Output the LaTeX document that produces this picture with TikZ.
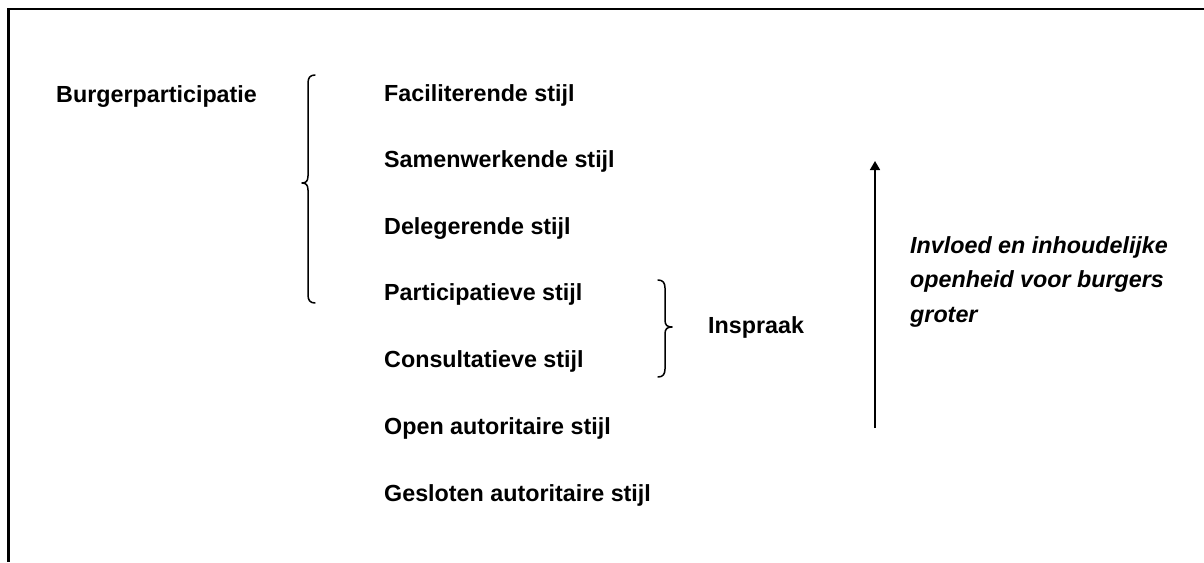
\documentclass[tikz,border=0pt]{standalone}
\usepackage{fontspec}
\setmainfont{Liberation Sans}
\usetikzlibrary{arrows.meta}
\tikzset{
  lbl/.style={anchor=base west, inner sep=0pt, font=\fontsize{23.3}{28}\selectfont\bfseries},
  ilbl/.style={anchor=base west, inner sep=0pt, align=left, font=\fontsize{23.3}{34.8}\selectfont\bfseries\itshape},
  brace/.style={line width=1.5pt, line cap=round, line join=round},
  frame/.style={line width=2.2pt},
  uparrow/.style={line width=1.6pt, -{Triangle[width=10pt,length=9pt]}}
}
\begin{document}
\begin{tikzpicture}[x=1pt,y=-1pt]
\useasboundingbox (0,0) rectangle (1204,562);
% frame (top and left edges)
\draw[frame] (1204,9) -- (8.5,9) -- (8.5,562);

\node[lbl] (burger) at (56,102) {Burgerparticipatie};

\node[lbl] (fac) at (384,101) {Faciliterende stijl};
\node[lbl] (sam) at (384,167) {Samenwerkende stijl};
\node[lbl] (del) at (384,234) {Delegerende stijl};
\node[lbl] (par) at (384,300) {Participatieve stijl};
\node[lbl] (con) at (384,367) {Consultatieve stijl};
\node[lbl] (open) at (384,434) {Open autoritaire stijl};
\node[lbl] (ges) at (384,501) {Gesloten autoritaire stijl};

\node[lbl] (insp) at (708,333) {Inspraak};

\node[ilbl, anchor=north west] (invl) at (910,236) {Invloed en inhoudelijke\\openheid voor burgers\\groter};

% left brace
\draw[brace] (315,75) .. controls (310,75) and (308,78) .. (308,83)
  -- (308,176) .. controls (308,181) and (306,183) .. (302,183)
  .. controls (306,183) and (308,185) .. (308,190)
  -- (308,295) .. controls (308,300) and (310,303) .. (315,303);

% right brace
\draw[brace] (658,280) .. controls (663,280) and (665,283) .. (665,288)
  -- (665,320) .. controls (665,325) and (667,327) .. (672,327)
  .. controls (667,327) and (665,329) .. (665,334)
  -- (665,369) .. controls (665,374) and (663,377) .. (658,377);

% arrow
\coordinate (abot) at (875,428);
\coordinate (atop) at (875,161);
\draw[uparrow] (abot) -- (atop);
\end{tikzpicture}
\end{document}
